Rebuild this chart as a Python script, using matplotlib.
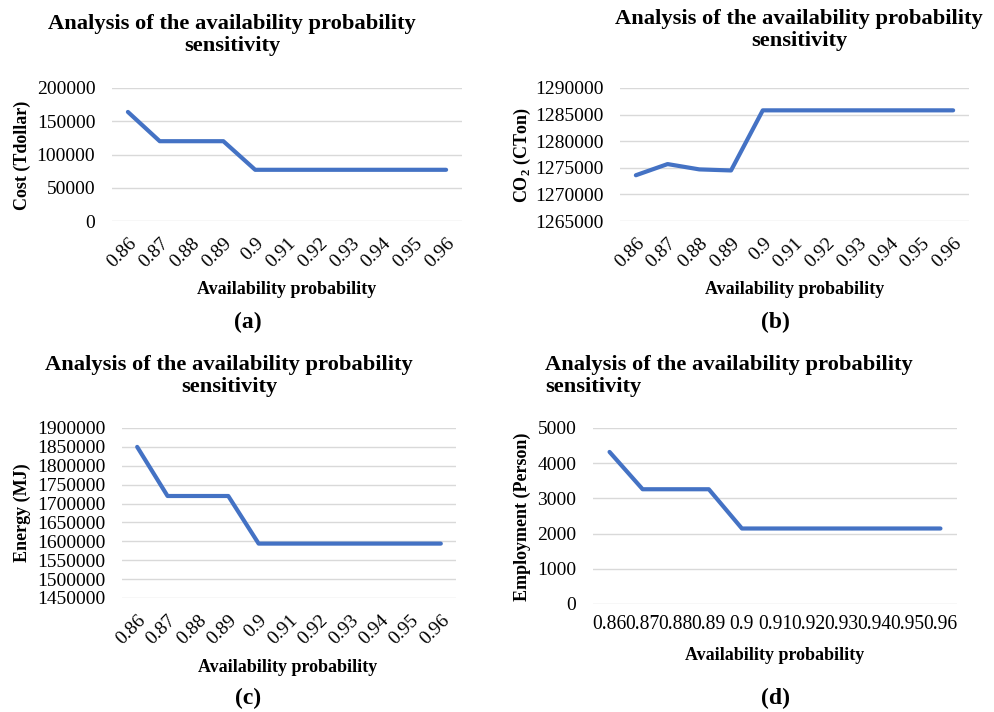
import matplotlib
matplotlib.use("Agg")
import matplotlib.pyplot as plt

plt.rcParams['font.family'] = ['Liberation Serif', 'DejaVu Serif']
plt.rcParams['mathtext.fontset'] = 'custom'
plt.rcParams['mathtext.rm'] = 'Liberation Serif'
plt.rcParams['mathtext.bf'] = 'Liberation Serif:bold'

categories = ["0.86", "0.87", "0.88", "0.89", "0.9", "0.91", "0.92", "0.93", "0.94", "0.95", "0.96"]
cost = [164000, 120000, 120000, 120000, 77000, 77000, 77000, 77000, 77000, 77000, 77000]
co2 = [1273600, 1275700, 1274700, 1274500, 1285800, 1285800, 1285800, 1285800, 1285800, 1285800, 1285800]
energy = [1850000, 1720000, 1720000, 1720000, 1594000, 1594000, 1594000, 1594000, 1594000, 1594000, 1594000]
employment = [4320, 3260, 3260, 3260, 2145, 2145, 2145, 2145, 2145, 2145, 2145]

title = "Analysis of the availability probability\nsensitivity"
xlabel = "Availability probability"

W, H = 994, 712
fig = plt.figure(figsize=(W / 100, H / 100), dpi=100)

LINE = "#4472C4"
GRID = "#D9D9D9"
TICK_FS = 14
LAB_FS = 13
TITLE_FS = 16.2
PANEL_FS = 17


def px_axes(l, t, r, b):
    return fig.add_axes([l / W, 1 - b / H, (r - l) / W, (b - t) / H])


def style(ax, vals, yticks, rotate=True):
    x = list(range(len(categories)))
    ax.plot(x, vals, color=LINE, lw=3.0, solid_capstyle='round', solid_joinstyle='round', zorder=3)
    ax.set_xlim(-0.5, len(categories) - 0.5)
    ax.set_ylim(yticks[0], yticks[-1])
    ax.set_yticks(yticks)
    ax.set_yticklabels([str(v) for v in yticks], fontsize=TICK_FS)
    ax.set_xticks(x)
    if rotate:
        ax.set_xticklabels(categories, fontsize=TICK_FS, rotation=45, ha='right', va='top',
                           rotation_mode='anchor')
        ax.tick_params(axis='x', length=0, pad=10)
    else:
        ax.set_xticklabels(categories, fontsize=14.1)
        ax.tick_params(axis='x', length=0, pad=8)
    ax.tick_params(axis='y', length=0, pad=12)
    for s in ax.spines.values():
        s.set_visible(False)
    ax.yaxis.grid(True, color=GRID, lw=1.0)
    ax.set_axisbelow(True)
    ax.set_facecolor('none')


def txt(x, y, s, fs, rot=0, ha='center'):
    fig.text(x / W, 1 - y / H, s, rotation=rot, ha=ha, va='center', fontsize=fs,
             fontweight='bold', linespacing=1.15)


# (a)
ax = px_axes(112, 88, 462, 221)
style(ax, cost, [0, 50000, 100000, 150000, 200000])
txt(232, 35, title, TITLE_FS)
txt(22, 155, "Cost (Tdollar)", LAB_FS, rot=90)
txt(287, 289, xlabel, LAB_FS)
txt(248, 322, "(a)", PANEL_FS)

# (b)
ax = px_axes(620, 88, 969, 221)
style(ax, co2, [1265000, 1270000, 1275000, 1280000, 1285000, 1290000])
txt(799, 30, title, TITLE_FS)
txt(522, 155, r"CO$_\mathbf{2}$ (CTon)", LAB_FS, rot=90)
txt(795, 289, xlabel, LAB_FS)
txt(775, 322, "(b)", PANEL_FS)

# (c)
ax = px_axes(122, 428, 456, 598)
style(ax, energy, [1450000, 1500000, 1550000, 1600000, 1650000, 1700000, 1750000, 1800000, 1850000, 1900000])
txt(229, 376, title, TITLE_FS)
txt(22, 513, "Energy (MJ)", LAB_FS, rot=90)
txt(288, 667, xlabel, LAB_FS)
txt(248, 698, "(c)", PANEL_FS)

# (d)
ax = px_axes(593, 428, 957, 604)
style(ax, employment, [0, 1000, 2000, 3000, 4000, 5000], rotate=False)
txt(545, 376, title, TITLE_FS, ha='left')
txt(522, 517, "Employment (Person)", LAB_FS, rot=90)
txt(775, 655, xlabel, LAB_FS)
txt(775, 698, "(d)", PANEL_FS)

fig.savefig("out.png", dpi=100, facecolor='white')
